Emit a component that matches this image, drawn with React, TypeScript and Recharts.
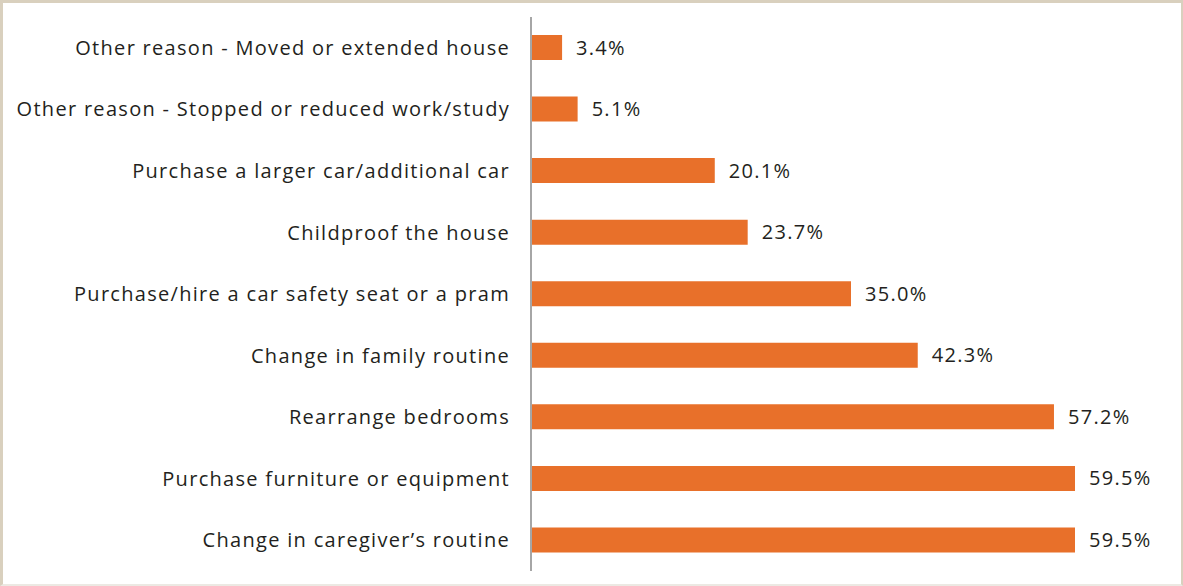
import React from "react";
import { BarChart, Bar, XAxis, YAxis, LabelList } from "recharts";

const categories = [
  "Other reason - Moved or extended house",
  "Other reason - Stopped or reduced work/study",
  "Purchase a larger car/additional car",
  "Childproof the house",
  "Purchase/hire a car safety seat or a pram",
  "Change in family routine",
  "Rearrange bedrooms",
  "Purchase furniture or equipment",
  "Change in caregiver\u2019s routine",
];
const values = [3.4, 5.1, 20.1, 23.7, 35.0, 42.3, 57.2, 59.5, 59.5];

const data = categories.map((name, i) => ({ name, value: values[i] }));

const FONT = "'Open Sans', sans-serif";

export default function App() {
  return (
    <div
      style={{
        position: "fixed",
        left: 0,
        top: 0,
        width: 1183,
        height: 586,
        boxSizing: "border-box",
        borderTop: "3px solid #D9D0BE",
        borderLeft: "3px solid #D9D0BE",
        borderRight: "2px solid #D9D0BE",
        borderBottom: "2px solid #ECE9E3",
        background: "#fff",
      }}
    >
      <div style={{ position: "absolute", left: -3, top: -3 }}>
        <BarChart
          width={1183}
          height={586}
          data={data}
          layout="vertical"
          margin={{ top: 17, right: 12, bottom: 15, left: 0 }}
        >
          <XAxis type="number" domain={[0, 70]} hide />
          <YAxis
            type="category"
            dataKey="name"
            width={531}
            axisLine={{ stroke: "#A6A6A6", strokeWidth: 2 }}
            tickLine={false}
            tickMargin={15}
            interval={0}
            tick={{ fill: "#231F20", fontSize: 20, fontFamily: FONT, letterSpacing: 1.3 }}
          />
          <Bar dataKey="value" fill="#E8702A" barSize={25} isAnimationActive={false}>
            <LabelList
              dataKey="value"
              position="right"
              offset={14}
              formatter={(v: number) => `${v.toFixed(1)}%`}
              style={{ fill: "#231F20", fontSize: 20, fontFamily: FONT, letterSpacing: 1.3 }}
            />
          </Bar>
        </BarChart>
      </div>
    </div>
  );
}
